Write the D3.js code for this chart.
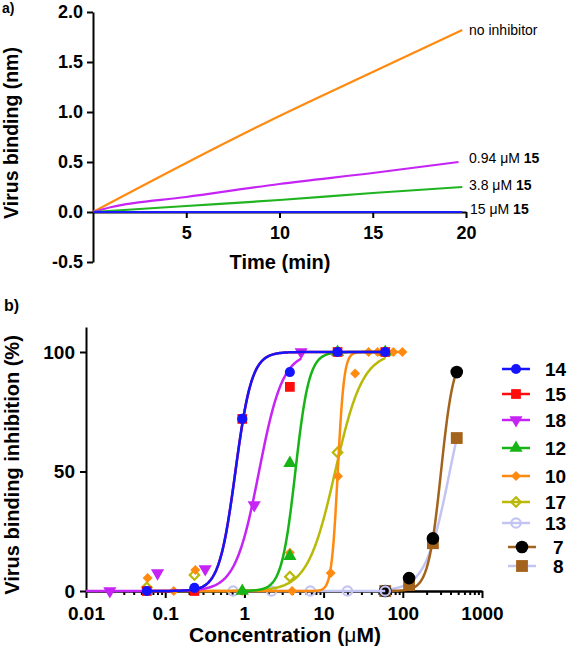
<!DOCTYPE html>
<html><head><meta charset="utf-8">
<script src="https://cdn.jsdelivr.net/npm/d3@7"></script>
<style>
body{margin:0;background:#fff}
svg{display:block}
text{font-family:"Liberation Sans",Arial,Helvetica,sans-serif;fill:#000}
</style>
</head><body>
<svg id="c" width="569" height="649"></svg>
<script>
// ---------------- Panel a data ----------------
const timeNoInhib = [0, 5, 10, 15, 19.8];
const bindNoInhib = [0, 0.49, 0.96, 1.40, 1.82];
const time094 = [0, 1, 5, 10, 15, 19.6];
const bind094 = [0, 0.05, 0.15, 0.28, 0.39, 0.50];
const time38 = [0, 5, 10, 15, 19.8];
const bind38 = [0, 0.06, 0.12, 0.19, 0.25];
const time15 = [0, 19.8];
const bind15 = [0, 0];
const kinLabels = ["no inhibitor", "0.94 \u03bcM ", "3.8 \u03bcM ", "15 \u03bcM "];
const kinBold = ["", "15", "15", "15"];
const kinColors = ["#ff8a10", "#c624f5", "#20b420", "#1a1aff"];
const yTicksA = [-0.5, 0, 0.5, 1.0, 1.5, 2.0];
const xTicksA = [5, 10, 15, 20];

// ---------------- Panel b data ----------------
const seriesNames = ["14", "15", "18", "12", "10", "17", "13", "7", "8"];
const conc14 = [0.0586, 0.234, 0.94, 3.75, 15, 60];
const inh14  = [0, 1.3, 72, 91.6, 100, 100];
const conc15 = [0.0586, 0.234, 0.94, 3.75, 15, 60];
const inh15  = [0, 0, 72, 85.4, 100, 100];
const conc18 = [0.02, 0.08, 0.32, 1.33, 5.2];
const inh18  = [0, 7.5, 9.2, 36, 100];
const conc12 = [0.94, 3.75, 3.75, 15, 60];
const inh12  = [0, 53.5, 14.6, 100, 100];
const conc10 = [0.06, 0.128, 0.24, 0.94, 3.75, 4.0, 12.3, 15.2, 25, 37, 48, 60, 76, 99];
const inh10  = [5.4, 0, 8.8, 0, 16, 0, 7.5, 48, 91, 100, 100, 100, 100, 100];
const conc17 = [0.0586, 0.234, 3.75, 15, 60];
const inh17  = [1.5, 6.7, 6.0, 58, 100];
const conc13 = [0.72, 2.2, 6.8, 20, 60];
const inh13  = [0, 0, 0, 0, 0];
const conc7  = [60, 120, 240, 480];
const inh7   = [0, 5.4, 22, 91.6];
const conc8  = [60, 120, 240, 480];
const inh8   = [0, 2.5, 20, 64];
// fitted dose-response (Hill) parameters
const fitIC50 = [0.77, 0.77, 1.53, 4.4, 15.1, 14, Infinity, 304, 392];
const fitHill = [4.2, 4.2, 2.9, 5, 11, 2.5, 1, 5.35, 2.83];
const fitFrom = [0.0586, 0.0586, 0.01, 0.94, 0.06, 0.234, 0.72, 60, 60];
const fitTo   = [60, 60, 5.2, 60, 99, 60, 60, 480, 480];
const markerColor = ["#1414ff", "#ff0d0d", "#c624f5", "#16b416", "#ff8a10", "#b9b90a", "#c4c4f2", "#000000", "#a4631c"];
const lineColor   = ["#1414ff", "#ff0d0d", "#c624f5", "#16b416", "#ff8a10", "#b9b90a", "#c4c4f2", "#a4631c", "#c4c4f2"];
const markerShape = ["circle", "square", "triDown", "triUp", "diamond", "diamondOpen", "circleOpen", "circleBig", "squareBig"];
const yTicksB = [0, 50, 100];
const xTicksB = [0.01, 0.1, 1, 10, 100, 1000];

const concs = [conc14, conc15, conc18, conc12, conc10, conc17, conc13, conc7, conc8];
const inhs  = [inh14, inh15, inh18, inh12, inh10, inh17, inh13, inh7, inh8];

const svg = d3.select("#c");

// ================= Panel a =================
const xA = d3.scaleLinear().domain([0, 20]).range([93, 466]);
const yA = d3.scaleLinear().domain([-0.5, 2.0]).range([262, 12]);
const gA = svg.append("g");

const axYA = d3.axisLeft(yA).tickValues(yTicksA).tickSize(6).tickSizeOuter(0).tickPadding(4)
  .tickFormat(d => d.toFixed(1));
gA.append("g").attr("transform", `translate(${xA(0)},0)`).call(axYA);
const axXA = d3.axisBottom(xA).tickValues(xTicksA).tickSize(6).tickSizeOuter(0).tickPadding(8)
  .tickFormat(d3.format("d"));
gA.append("g").attr("transform", `translate(0,${yA(0)})`).call(axXA);

const kinT = [timeNoInhib, time094, time38, time15];
const kinY = [bindNoInhib, bind094, bind38, bind15];
const lineA = d3.line().x(d => xA(d[0])).y(d => yA(d[1])).curve(d3.curveMonotoneX);
kinT.forEach((t, i) => {
  const pts = t.map((v, j) => [v, kinY[i][j]]);
  gA.append("path").attr("d", lineA(pts)).attr("fill", "none")
    .attr("stroke", kinColors[i]).attr("stroke-width", 2.2);
});
const labDy = [0, -4, -2, -3];
kinT.forEach((t, i) => {
  const last = t.length - 1;
  const tx = gA.append("text").attr("x", xA(20) + 3 + (i === 3 ? 1 : 0)).attr("y", yA(kinY[i][last]) + labDy[i])
    .attr("dy", "0.35em").style("font-size", "14px");
  tx.append("tspan").text(kinLabels[i]);
  if (kinBold[i]) tx.append("tspan").style("font-weight", "bold").text(kinBold[i]);
});

gA.append("text").attr("x", 280).attr("y", 269).attr("text-anchor", "middle")
  .style("font-size", "20px").style("font-weight", "bold").text("Time (min)");
gA.append("text").attr("transform", "translate(18,133) rotate(-90)").attr("text-anchor", "middle")
  .style("font-size", "19.5px").style("font-weight", "bold").text("Virus binding (nm)");
gA.append("text").attr("x", 2).attr("y", 13).style("font-size", "14px").style("font-weight", "bold").text("a)");

// ================= Panel b =================
const xB = d3.scaleLog().domain([0.01, 1000]).range([86, 482]);
const yB = d3.scaleLinear().domain([0, 110.46]).range([591, 327]);
const gB = svg.append("g");

const axYB = d3.axisLeft(yB).tickValues(yTicksB).tickSize(6).tickSizeOuter(0).tickPadding(5)
  .tickFormat(d3.format("d"));
gB.append("g").attr("transform", `translate(${xB(0.01)},0)`).call(axYB);

const minorB = [];
[0.01, 0.1, 1, 10, 100].forEach(d => { for (let k = 2; k <= 9; k++) minorB.push(d * k); });
const axXBminor = d3.axisBottom(xB).tickValues(minorB).tickSize(4).tickSizeOuter(0).tickFormat("");
gB.append("g").attr("transform", `translate(0,${yB(0)})`).call(axXBminor);
const axXB = d3.axisBottom(xB).tickValues(xTicksB).tickSize(7).tickSizeOuter(0).tickPadding(9)
  .tickFormat(d => String(d));
gB.append("g").attr("transform", `translate(0,${yB(0)})`).call(axXB);

// style axes
svg.selectAll(".domain").attr("stroke", "#000").attr("stroke-width", 2);
svg.selectAll(".tick line").attr("stroke", "#000").attr("stroke-width", 2);
gA.selectAll(".tick text").style("font-size", "18px").style("font-weight", "bold").attr("fill", "#000");
gB.selectAll(".tick text").style("font-size", "19px").style("font-weight", "bold").attr("fill", "#000");

function markerPath(shape) {
  switch (shape) {
    case "circle": return d3.symbol(d3.symbolCircle, 80)();
    case "circleOpen": return d3.symbol(d3.symbolCircle, 70)();
    case "circleBig": return d3.symbol(d3.symbolCircle, 125)();
    case "square": return d3.symbol(d3.symbolSquare, 95)();
    case "squareBig": return d3.symbol(d3.symbolSquare, 140)();
    case "triDown": case "triUp": return d3.symbol(d3.symbolTriangle, 75)();
    case "diamond": return d3.symbol(d3.symbolSquare, 50)();
    case "diamondOpen": return d3.symbol(d3.symbolSquare, 45)();
  }
}
function markerRot(shape) {
  if (shape === "triDown") return " rotate(180)";
  if (shape === "diamond" || shape === "diamondOpen") return " rotate(45)";
  return "";
}
function drawMarker(g, x, y, i) {
  const shape = markerShape[i];
  const open = shape === "diamondOpen" || shape === "circleOpen";
  g.append("path").attr("d", markerPath(shape))
    .attr("transform", `translate(${x},${y})${markerRot(shape)}`)
    .attr("fill", open ? "none" : markerColor[i])
    .attr("stroke", open ? markerColor[i] : "none")
    .attr("stroke-width", open ? 2.2 : 0);
}

const hill = (c, i) => 100 / (1 + Math.pow(fitIC50[i] / c, fitHill[i]));
const lineB = d3.line().x(d => xB(d[0])).y(d => yB(d[1]));

// draw last series first so that 14 ends on top
for (let i = seriesNames.length - 1; i >= 0; i--) {
  const g = gB.append("g");
  const lo = Math.log10(fitFrom[i]), hi = Math.log10(fitTo[i]);
  const pts = d3.range(0, 301).map(k => {
    const c = Math.pow(10, lo + (hi - lo) * k / 300);
    return [c, hill(c, i)];
  });
  g.append("path").attr("d", lineB(pts)).attr("fill", "none")
    .attr("stroke", lineColor[i]).attr("stroke-width", 2.5);
  concs[i].forEach((c, j) => drawMarker(g, xB(c), yB(inhs[i][j]), i));
}

// legend
const legY = [369, 394, 420, 448, 476, 502, 523, 547, 566];
seriesNames.forEach((name, i) => {
  const shift = i >= 7 ? 6 : 0;
  const lx0 = 502 + shift, lx1 = 530 + shift, y = legY[i];
  const g = gB.append("g");
  g.append("line").attr("x1", lx0).attr("x2", lx1).attr("y1", y).attr("y2", y)
    .attr("stroke", lineColor[i]).attr("stroke-width", 2.5);
  drawMarker(g, (lx0 + lx1) / 2, y, i);
  g.append("text").attr("x", 545 + (i >= 7 ? 8 : 0)).attr("y", y).attr("dy", "0.36em")
    .style("font-size", "19px").style("font-weight", "bold").text(name);
});

gB.append("text").attr("x", 285).attr("y", 642).attr("text-anchor", "middle")
  .style("font-size", "21px").style("font-weight", "bold")
  .call(t => { t.append("tspan").text("Concentration ("); t.append("tspan").style("font-weight", "normal").text("\u03bc"); t.append("tspan").text("M)"); });
gB.append("text").attr("transform", "translate(19,465) rotate(-90)").attr("text-anchor", "middle")
  .style("font-size", "20px").style("font-weight", "bold").text("Virus binding inhibition (%)");
gB.append("text").attr("x", 4).attr("y", 311).style("font-size", "16px").style("font-weight", "bold").text("b)");
</script>
</body></html>
